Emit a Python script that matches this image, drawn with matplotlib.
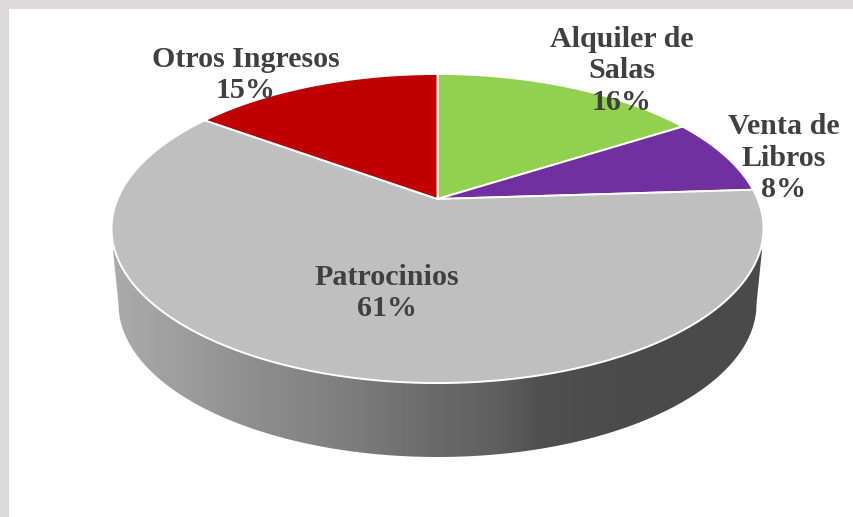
import numpy as np
import matplotlib
matplotlib.use("Agg")
import matplotlib.pyplot as plt
from matplotlib.patches import Polygon, Rectangle
from matplotlib.colors import LinearSegmentedColormap

# data
names = ["Alquiler de\nSalas", "Venta de\nLibros", "Patrocinios", "Otros Ingresos"]
percent = [16, 8, 61, 15]
colors = ["#92d050", "#7030a0", "#bfbfbf", "#c00000"]

plt.rcParams["font.family"] = ["Liberation Serif", "DejaVu Serif"]

fig = plt.figure(figsize=(8.54, 5.17), dpi=100, facecolor="#dcd9da")
ax = fig.add_axes([0, 0, 1, 1])
wedges, _ = ax.pie(percent, startangle=90, counterclock=False, colors=colors)
ax.set_aspect("auto")
ax.axis("off")

# white sheet, grey frame shows top and left only
ax.add_patch(Rectangle((9, 9), 860, 520, fc="white", ec="none", zorder=0))


# the unit pie seen in perspective, goes to pixel position
def warp(x, y):
    k = 0.191
    w = 1 + k * y
    return np.column_stack([437.5 + 320 * x / w, 199 - 148.9 * y / w])


# side wall of the disc
t = np.linspace(np.pi, 2 * np.pi, 200)
low_x = 437.5 + 319 * np.cos(t)
low_y = 304 - 153 * np.sin(t)
wall = np.vstack([[[113, 250]], np.column_stack([low_x, low_y]), [[762, 250]]])
wall_patch = Polygon(wall, closed=True, fc="none", ec="none", zorder=1)
ax.add_patch(wall_patch)

stops = [(113, "#ababab"), (257, "#8d8d8d"), (357, "#7c7c7c"), (425, "#6c6c6c"),
         (497, "#5f5f5f"), (540, "#505050"), (620, "#4b4b4b"), (765, "#4a4a4a")]
cmap = LinearSegmentedColormap.from_list(
    "wall", [((x - 113) / (765 - 113), c) for x, c in stops])
grad = ax.imshow(np.linspace(0, 1, 652).reshape(1, -1), extent=(113, 765, 460, 240),
                 cmap=cmap, aspect="auto", zorder=1)
grad.set_clip_path(wall_patch)

# top of the disc, angles come from the pie wedges
for w in wedges:
    w.remove()
    ang = np.radians(np.linspace(w.theta1, w.theta2, 200))
    arc = warp(np.cos(ang), np.sin(ang))
    pts = np.vstack([warp(np.array([0.0]), np.array([0.0])), arc])
    ax.add_patch(Polygon(pts, closed=True, fc=w.get_facecolor(), ec="white",
                         lw=1.4, joinstyle="round", zorder=2))

ax.set_xlim(0, 854)
ax.set_ylim(517, 0)

# labels
label_pos = [(622, 71), (784, 158), (387, 293), (246, 75)]
for name, p, (x, y) in zip(names, percent, label_pos):
    ax.text(x, y, f"{name}\n{p}%", ha="center", va="center", ma="center",
            fontsize=21.6, fontweight="bold", color="#404040", linespacing=1.2, zorder=3)

fig.savefig("out.png", dpi=100, facecolor=fig.get_facecolor())
